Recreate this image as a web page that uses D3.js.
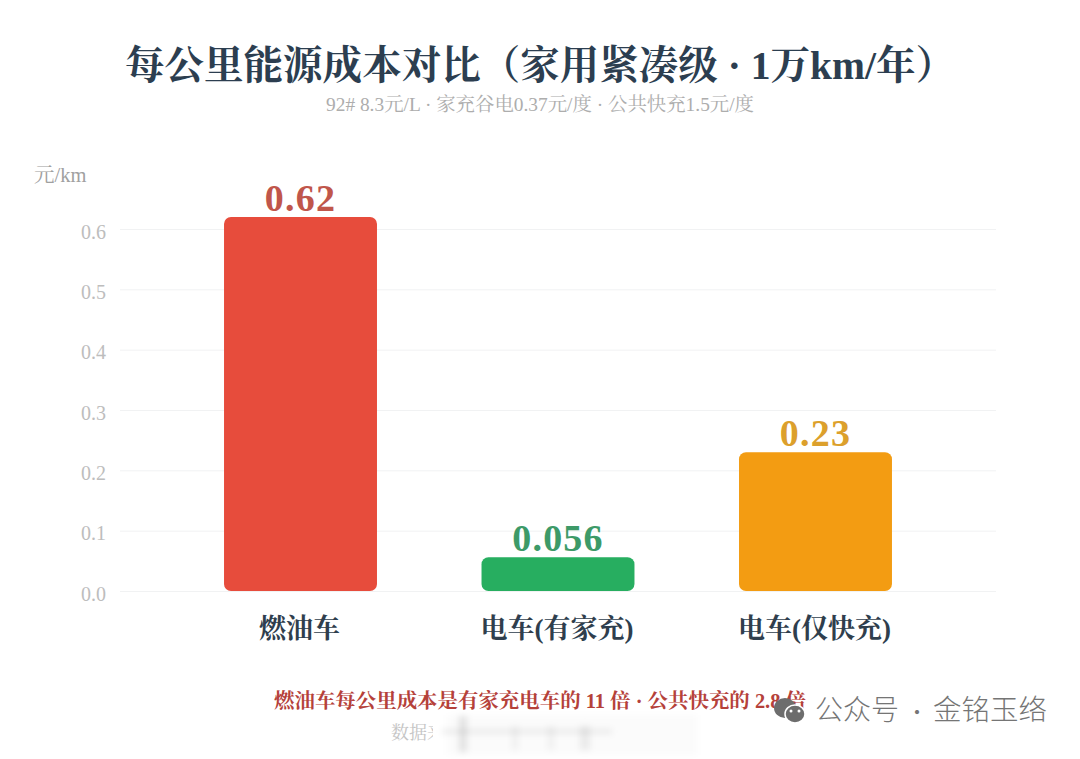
<!DOCTYPE html>
<html lang="zh">
<head>
<meta charset="utf-8">
<script src="https://cdn.jsdelivr.net/npm/d3@7/dist/d3.min.js"></script>
<style>
html,body{margin:0;padding:0;background:#fff;}
svg{display:block;}
text{font-family:"Liberation Serif","Noto Serif CJK SC","Noto Sans CJK SC",serif;}
</style>
</head>
<body>
<svg id="chart" width="1080" height="759"></svg>
<script>
const categories = ["燃油车", "电车(有家充)", "电车(仅快充)"];
const costs = [0.62, 0.056, 0.23];
const costLabels = ["0.62", "0.056", "0.23"];
const barColors = ["#e74c3c", "#27ae60", "#f39c12"];
const labelColors = ["#c0564b", "#3d9a68", "#dca02c"];
const yTicks = [0, 0.1, 0.2, 0.3, 0.4, 0.5, 0.6];

const svg = d3.select("#chart");
const x = d3.scaleBand().domain(categories).range([120, 996]).paddingInner(0.406).paddingOuter(0.404);
const y = d3.scaleLinear().domain([0, 0.6]).range([591, 229]);

// Title block
svg.append("text").attr("x", 125).attr("y", 79)
  .attr("font-size", 40).attr("font-weight", 700).attr("fill", "#2c3e50")
  .attr("textLength", 830).attr("lengthAdjust", "spacingAndGlyphs")
  .text("每公里能源成本对比（家用紧凑级 · 1万km/年）");
svg.append("text").attr("x", 540).attr("y", 111).attr("text-anchor", "middle")
  .attr("font-size", 19.4).attr("fill", "#adadad")
  .text("92# 8.3元/L · 家充谷电0.37元/度 · 公共快充1.5元/度");
svg.append("text").attr("x", 34).attr("y", 182)
  .attr("font-size", 20.5).attr("fill", "#a0a0a0").text("元/km");

// Y axis with full-width gridlines
const yAxis = d3.axisLeft(y).tickValues(yTicks).tickFormat(d3.format(".1f")).tickSize(-876).tickPadding(14);
const yG = svg.append("g").attr("transform", "translate(120,0)").call(yAxis);
yG.select(".domain").remove();
yG.selectAll(".tick line").attr("stroke", "#f1f2f3").attr("stroke-width", 1);
yG.selectAll(".tick text").attr("font-size", 20).attr("fill", "#bdbdbd").attr("dy", "0.45em");

// Rounded bars
svg.append("g").selectAll("rect").data(costs).join("rect")
  .attr("x", (d, i) => x(categories[i]))
  .attr("y", d => y(d))
  .attr("width", x.bandwidth())
  .attr("height", d => y(0) - y(d))
  .attr("rx", 7)
  .attr("fill", (d, i) => barColors[i]);

// Value labels above the bars
svg.append("g").selectAll("text").data(costs).join("text")
  .attr("x", (d, i) => x(categories[i]) + x.bandwidth() / 2)
  .attr("y", d => y(d) - 6)
  .attr("text-anchor", "middle").attr("font-size", 38).attr("font-weight", 700)
  .attr("letter-spacing", 1.2)
  .attr("fill", (d, i) => labelColors[i])
  .text((d, i) => costLabels[i]);

// Category axis
const xAxis = d3.axisBottom(x).tickSize(0).tickPadding(28);
const xG = svg.append("g").attr("transform", "translate(-1,591)").call(xAxis);
xG.select(".domain").remove();
xG.selectAll(".tick text").attr("font-size", 27).attr("font-weight", 700).attr("fill", "#2f3e4d")
  .style("font-family", '"Liberation Serif","Noto Serif CJK SC",serif');

// Summary and source lines
svg.append("text").attr("x", 540).attr("y", 708).attr("text-anchor", "middle")
  .attr("font-size", 20).attr("font-weight", 700).attr("fill", "#b5413a")
  .attr("textLength", 532).attr("lengthAdjust", "spacingAndGlyphs")
  .text("燃油车每公里成本是有家充电车的 11 倍 · 公共快充的 2.8 倍");
svg.append("text").attr("x", 391).attr("y", 739)
  .attr("font-size", 18).attr("fill", "#c4c4c4").text("数据来");

// Smudged band that hides the rest of the source line
const smudge = svg.append("defs").append("filter").attr("id", "smudge")
  .attr("x", "-20%").attr("y", "-40%").attr("width", "140%").attr("height", "180%");
smudge.append("feGaussianBlur").attr("stdDeviation", 3);
const smudgeStrokes = [[447, 715, 250, 40, 0.015], [442, 729, 170, 5, 0.07], [459, 716, 8, 36, 0.1], [512, 726, 6, 24, 0.05], [548, 726, 6, 24, 0.05], [580, 726, 10, 24, 0.07]];
svg.append("rect").attr("x", 433).attr("y", 722).attr("width", 300).attr("height", 32).attr("fill", "#fff");
svg.append("g").attr("filter", "url(#smudge)").selectAll("rect").data(smudgeStrokes).join("rect")
  .attr("x", d => d[0]).attr("y", d => d[1]).attr("width", d => d[2]).attr("height", d => d[3])
  .attr("fill", "#000").attr("fill-opacity", d => d[4]);

// Publisher mark
const mark = svg.append("g").attr("fill", "#6d6d6d");
mark.append("ellipse").attr("cx", 785).attr("cy", 708).attr("rx", 11).attr("ry", 10);
mark.append("ellipse").attr("cx", 795).attr("cy", 714).attr("rx", 10).attr("ry", 9).attr("stroke", "#fff").attr("stroke-width", 1.5);
mark.selectAll("circle").data([[791, 711], [799, 711]]).join("circle")
  .attr("cx", d => d[0]).attr("cy", d => d[1]).attr("r", 1.5).attr("fill", "#fff");
const markText = svg.append("g").attr("fill", "#757575").attr("font-weight", 300)
  .style("font-family", '"Noto Sans CJK SC",sans-serif');
markText.append("text").attr("x", 815).attr("y", 720).attr("font-size", 28)
  .style("font-family", "inherit").text("公众号");
markText.append("text").attr("x", 917).attr("y", 720).attr("font-size", 22).attr("text-anchor", "middle")
  .style("font-family", "inherit").text("·");
markText.append("text").attr("x", 933).attr("y", 720).attr("font-size", 28.5)
  .style("font-family", "inherit").text("金铭玉络");
</script>
</body>
</html>
